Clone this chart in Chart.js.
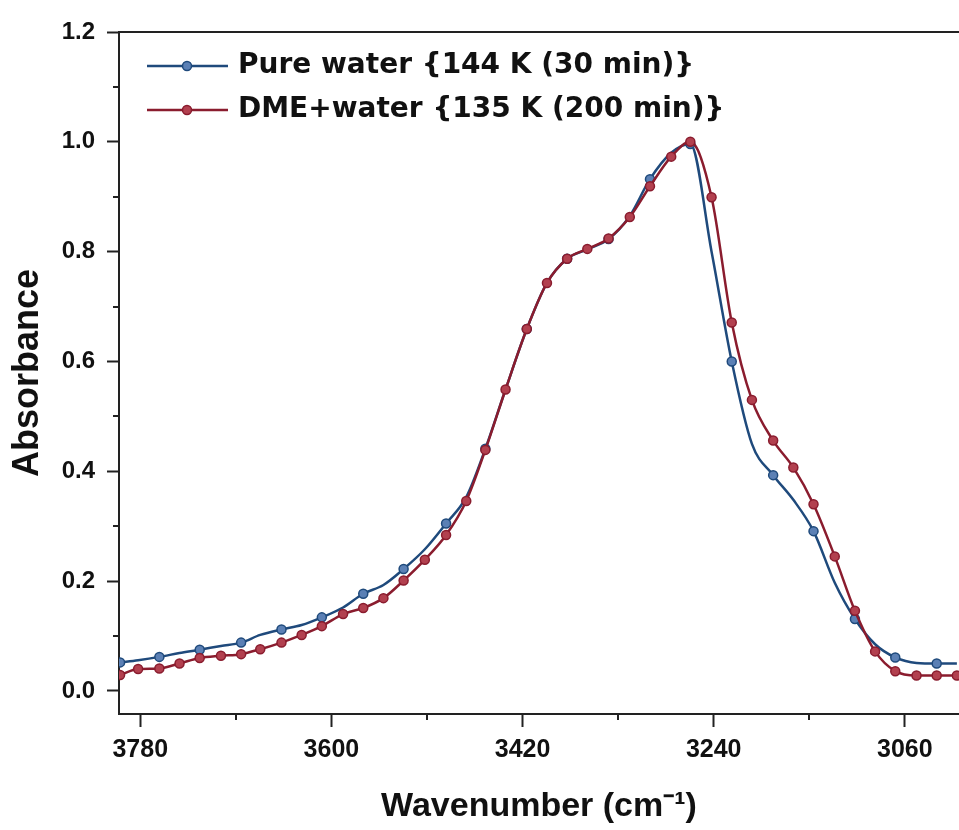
<!DOCTYPE html>
<html>
<head>
<meta charset="utf-8">
<script src="https://cdn.jsdelivr.net/npm/chart.js@4"></script>
<style>
  body { margin: 0; background: #fff; }
  canvas { display: block; }
</style>
</head>
<body>
<canvas id="spectrum" width="959" height="830"></canvas>
<script>
// wavenumber grid (cm-1)
const wavenumbers = [3799, 3782, 3762, 3743, 3724, 3704, 3685, 3667, 3647, 3628, 3609, 3589, 3570, 3551,
    3532, 3512, 3492, 3473, 3455, 3436, 3416, 3397, 3378, 3359, 3339, 3319, 3300, 3280,
    3262, 3242, 3223, 3204, 3184, 3165, 3146, 3126, 3107, 3088, 3069, 3049, 3030, 3011];

const pureWater = [0.052, 0.056, 0.062, 0.069, 0.075, 0.082, 0.088, 0.102, 0.112, 0.120, 0.134, 0.152, 0.177, 0.193,
    0.222, 0.258, 0.305, 0.353, 0.441, 0.549, 0.659, 0.743, 0.787, 0.804, 0.823, 0.865, 0.932, 0.980,
    0.996, 0.800, 0.600, 0.450, 0.393, 0.348, 0.291, 0.197, 0.131, 0.085, 0.061, 0.051, 0.050, 0.050];

const dmeWater = [0.029, 0.040, 0.041, 0.050, 0.060, 0.064, 0.067, 0.076, 0.088, 0.102, 0.118, 0.140, 0.151, 0.169,
    0.201, 0.239, 0.284, 0.346, 0.439, 0.549, 0.659, 0.743, 0.787, 0.805, 0.824, 0.863, 0.919, 0.973,
    1.000, 0.899, 0.671, 0.530, 0.456, 0.407, 0.340, 0.245, 0.146, 0.072, 0.036, 0.028, 0.028, 0.028];

const seriesNames = ['Pure water {144 K (30 min)}', 'DME+water {135 K (200 min)}'];

const xTicks = [3780, 3600, 3420, 3240, 3060];
const xMinor = [3690, 3510, 3330, 3150];
const yTicks = [0.0, 0.2, 0.4, 0.6, 0.8, 1.0, 1.2];
const yMinor = [0.1, 0.3, 0.5, 0.7, 0.9, 1.1];

const axisColor = '#222';
const blueLine = '#1f4a7c', blueFill = '#5b80b5';
const redLine = '#8a1c2e', redFill = '#b2404f';
const fontFamily = "'Liberation Sans', Arial, sans-serif";

// small line + dot picture for the legend
function legendMark(line, fill) {
    const c = document.createElement('canvas');
    c.width = 97;
    c.height = 14;
    const g = c.getContext('2d');
    g.strokeStyle = line;
    g.lineWidth = 2.5;
    g.beginPath();
    g.moveTo(16, 7);
    g.lineTo(97, 7);
    g.stroke();
    g.beginPath();
    g.arc(56, 7, 4.5, 0, Math.PI * 2);
    g.fillStyle = fill;
    g.fill();
    g.lineWidth = 1.5;
    g.stroke();
    return c;
}
const legendMarks = [legendMark(blueLine, blueFill), legendMark(redLine, redFill)];

// short minor tick marks on both axes
const minorTicks = {
    id: 'minorTicks',
    afterDraw(chart) {
        const { ctx, chartArea, scales } = chart;
        ctx.save();
        ctx.strokeStyle = axisColor;
        ctx.lineWidth = 2;
        yMinor.forEach(v => {
            const py = Math.round(scales.y.getPixelForValue(v));
            ctx.beginPath();
            ctx.moveTo(chartArea.left - 6, py);
            ctx.lineTo(chartArea.left, py);
            ctx.stroke();
        });
        xMinor.forEach(v => {
            const px = Math.round(scales.x.getPixelForValue(v));
            ctx.beginPath();
            ctx.moveTo(px, chartArea.bottom);
            ctx.lineTo(px, chartArea.bottom + 6);
            ctx.stroke();
        });
        ctx.restore();
    }
};

new Chart(document.getElementById('spectrum'), {
    type: 'line',
    data: {
        datasets: [{
            label: seriesNames[0],
            data: wavenumbers.map((w, i) => ({ x: w, y: pureWater[i] })),
            borderColor: blueLine,
            borderWidth: 2.5,
            pointBackgroundColor: blueFill,
            pointBorderColor: blueLine,
            pointBorderWidth: 1.5,
            pointRadius: ctx => ctx.dataIndex % 2 === 0 ? 4.5 : 0,
            cubicInterpolationMode: 'monotone',
            order: 2
        }, {
            label: seriesNames[1],
            data: wavenumbers.map((w, i) => ({ x: w, y: dmeWater[i] })),
            borderColor: redLine,
            borderWidth: 2.5,
            pointBackgroundColor: redFill,
            pointBorderColor: redLine,
            pointBorderWidth: 1.5,
            pointRadius: 4.5,
            cubicInterpolationMode: 'monotone',
            order: 1
        }]
    },
    options: {
        responsive: false,
        animation: false,
        layout: { autoPadding: false, padding: { top: 32, right: 0, left: 0, bottom: 0 } },
        plugins: {
            tooltip: { enabled: false },
            legend: {
                position: 'chartArea',
                align: 'start',
                // empty title only pushes the entries down into the plot
                title: { display: true, text: '', font: { size: 10, lineHeight: 1 }, padding: { top: 16, bottom: 10 } },
                labels: {
                    usePointStyle: true,
                    pointStyleWidth: 89,
                    padding: 16,
                    color: '#111',
                    font: { family: "'DejaVu Sans', sans-serif", size: 28, weight: 'bold' },
                    sort: (a, b) => a.datasetIndex - b.datasetIndex,
                    generateLabels: chart => Chart.defaults.plugins.legend.labels.generateLabels(chart)
                        .map(item => Object.assign(item, { pointStyle: legendMarks[item.datasetIndex] }))
                }
            }
        },
        scales: {
            x: {
                type: 'linear',
                reverse: true,
                min: 3009,
                max: 3800,
                afterBuildTicks: scale => { scale.ticks = xTicks.map(v => ({ value: v })); },
                afterFit: scale => { scale.height = 116; scale.paddingLeft = 0; scale.paddingRight = 0; },
                grid: { drawOnChartArea: false, tickLength: 13, tickWidth: 2, tickColor: axisColor },
                border: { color: axisColor, width: 2 },
                ticks: {
                    padding: 8,
                    color: '#111',
                    font: { family: fontFamily, size: 25, weight: 'bold' },
                    callback: v => String(v)
                },
                title: {
                    display: true,
                    text: 'Wavenumber (cm\u207B\u00B9)',
                    color: '#111',
                    padding: { top: 0, bottom: 3 },
                    font: { family: fontFamily, size: 34, weight: 'bold' }
                }
            },
            xTop: {
                type: 'linear',
                position: 'top',
                reverse: true,
                min: 3009,
                max: 3800,
                afterFit: scale => { scale.height = 0; scale.paddingLeft = 0; scale.paddingRight = 0; },
                grid: { display: false, drawTicks: false },
                ticks: { display: false },
                border: { color: axisColor, width: 2 }
            },
            y: {
                min: -0.042,
                max: 1.2,
                afterBuildTicks: scale => { scale.ticks = yTicks.map(v => ({ value: v })); },
                afterFit: scale => { scale.width = 119; },
                grid: { drawOnChartArea: false, tickLength: 12, tickWidth: 2, tickColor: axisColor },
                border: { color: axisColor, width: 2 },
                ticks: {
                    padding: 12,
                    color: '#111',
                    font: { family: fontFamily, size: 24, weight: 'bold' },
                    callback: v => v.toFixed(1)
                },
                title: {
                    display: true,
                    text: 'Absorbance',
                    color: '#111',
                    padding: { top: 6, bottom: 0 },
                    font: { family: fontFamily, size: 36, weight: 'bold' }
                }
            }
        }
    },
    plugins: [minorTicks]
});
</script>
</body>
</html>
